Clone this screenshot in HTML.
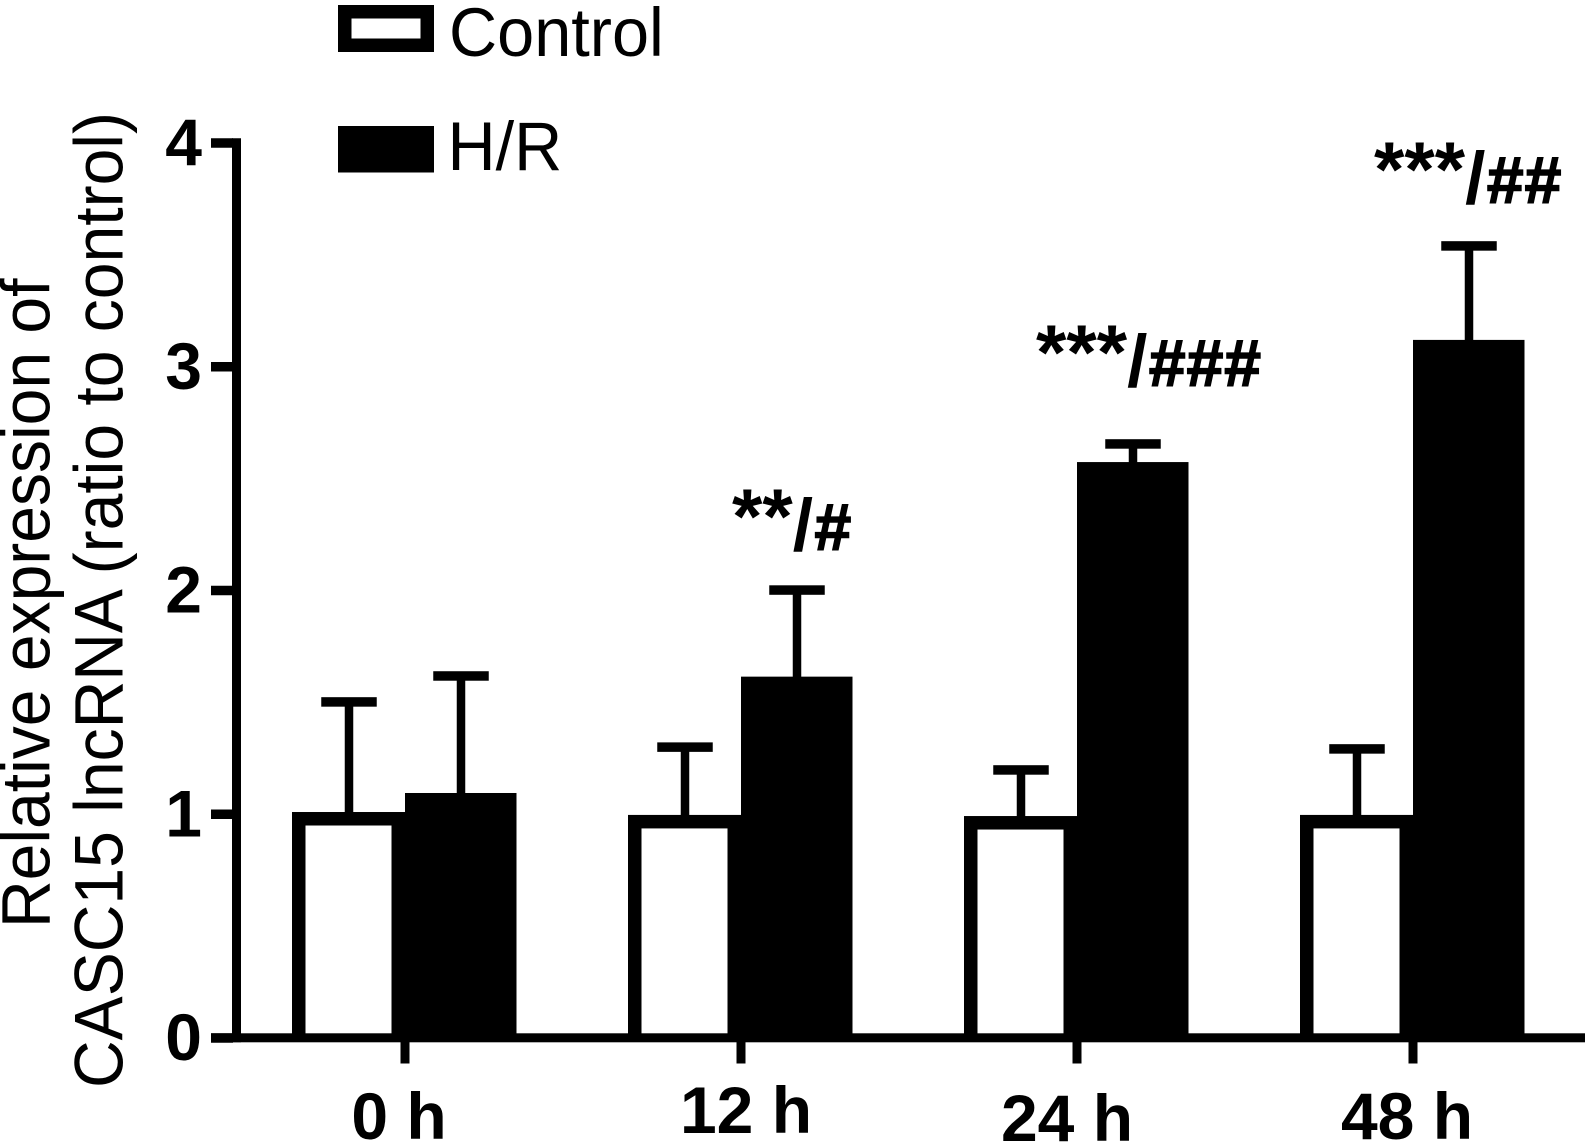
<!DOCTYPE html>
<html lang="en">
<head>
<meta charset="utf-8">
<title>CASC15 lncRNA relative expression</title>
<style>
html,body{margin:0;padding:0;background:#fff;}
svg{display:block;font-family:"Liberation Sans",Arial,sans-serif;}
</style>
</head>
<body>
<svg id="chart" xmlns="http://www.w3.org/2000/svg" width="1587" height="1144" viewBox="0 0 1587 1144">
  <rect x="0" y="0" width="1587" height="1144" fill="#fff"/>
  <g font-size="69" fill="#000">
    <text transform="translate(49.5 928) rotate(-90) scale(0.957 1)">Relative expression of</text>
    <text transform="translate(122.5 1088) rotate(-90) scale(0.957 1)">CASC15 lncRNA (ratio to control)</text>
  </g>
  <g>
    <g>
      <rect x="344.75" y="11.75" width="82.5" height="33.5" fill="#fff" stroke="#000" stroke-width="13.5"/>
      <text transform="translate(449 56) scale(0.966 1)" font-size="69" fill="#000">Control</text>
    </g>
    <g>
      <rect x="338" y="126" width="96" height="46.5" fill="#000"/>
      <text transform="translate(447.5 170) scale(0.966 1)" font-size="69" fill="#000">H/R</text>
    </g>
  </g>
  <g id="marks"></g>
  <g id="axes"></g>
</svg>
<script>
const categories = ['0 h', '12 h', '24 h', '48 h'];
const controlValues = [1.01, 0.997, 0.992, 0.997];
const hrValues = [1.095, 1.615, 2.574, 3.12];
const controlErrorTops = [1.502, 1.30, 1.198, 1.292];
const hrErrorTops = [1.618, 2.002, 2.655, 3.54];
const yTickValues = [0, 1, 2, 3, 4];
const starLabels = ['', '**', '***', '***'];
const hashLabels = ['', '#', '###', '##'];

const NS = 'http://www.w3.org/2000/svg';
const marks = document.getElementById('marks');
const axes = document.getElementById('axes');

function yScale(v) { return 1038 - 223.75 * v; }
function xScale(i) { return 405 + 336 * i; }

function make(tag, parent, attrs) {
  const el = document.createElementNS(NS, tag);
  Object.keys(attrs).forEach(function (k) { el.setAttribute(k, attrs[k]); });
  parent.appendChild(el);
  return el;
}

function errorBar(parent, cx, value, base, slug) {
  const capY = yScale(value);
  const stem = make('rect', parent, { x: cx - 4.25, y: capY, width: 8.5, height: Math.max(0, yScale(base) - capY + 2), fill: '#000' });
  
  
  const cap = make('rect', parent, { x: cx - 27.75, y: capY - 4.75, width: 55.5, height: 9.5, fill: '#000' });
  
  
}

const AXIS_BASE = 1034;
const BORDER = 13.5;
categories.forEach(function (cat, i) {
  const gx = xScale(i);
  const slug = cat.replace(' ', '');
  errorBar(marks, gx - 56, controlErrorTops[i], controlValues[i], 'control-' + slug);
  errorBar(marks, gx + 56, hrErrorTops[i], hrValues[i], 'hr-' + slug);

  const cTop = yScale(controlValues[i]);
  const cBar = make('rect', marks, {
    x: gx - 113,
    y: cTop,
    width: 113,
    height: AXIS_BASE + 4 - cTop,
    fill: '#000'
  });
  
  
  const cFill = make('rect', marks, {
    x: gx - 113 + BORDER,
    y: cTop + BORDER,
    width: 113 - 2 * BORDER,
    height: AXIS_BASE - cTop - BORDER,
    fill: '#fff'
  });
  
  

  const hTop = yScale(hrValues[i]);
  const hBar = make('rect', marks, {
    x: gx,
    y: hTop,
    width: 111.5,
    height: AXIS_BASE + 4 - hTop,
    fill: '#000'
  });
  
  
});

/* significance labels sit a fixed lift above the H/R error cap */
const annotationLift = [0, 40, 58, 43];
const annotationShift = [0, -9, -41, -39];
categories.forEach(function (cat, i) {
  if (!starLabels[i]) { return; }
  const slug = cat.replace(' ', '');
  const base = yScale(hrErrorTops[i]) - annotationLift[i];
  const t = make('text', marks, { x: xScale(i) + annotationShift[i], y: base - 7, 'font-weight': 'bold', fill: '#000' });
  
  
  const stars = make('tspan', t, { 'font-size': 78 });
  stars.textContent = starLabels[i];
  const slash = make('tspan', t, { 'font-size': 73, dy: 7 });
  slash.textContent = '/';
  const hash = make('tspan', t, { 'font-size': 66, dx: 1.5, 'letter-spacing': 1, stroke: '#000', 'stroke-width': 1.6 });
  hash.textContent = hashLabels[i];
});

const yLine = make('rect', axes, { x: 232, y: 138.25, width: 9, height: 904, fill: '#000' });


const xLine = make('rect', axes, { x: 211, y: 1033.3, width: 1374, height: 9, fill: '#000' });



yTickValues.forEach(function (v) {
  const yy = yScale(v);
  const tick = make('rect', axes, { x: 211, y: yy - 4.75, width: 22, height: 9.5, fill: '#000' });
  
  
  const label = make('text', axes, { x: 202, y: yy + 22, 'text-anchor': 'end', 'font-size': 66, 'font-weight': 'bold', fill: '#000' });
  
  
  label.textContent = String(v);
});

const xLabelNudge = [-6, 5, -10, -6];
const xLabelBaseline = [1139, 1133, 1141, 1139];
categories.forEach(function (cat, i) {
  const gx = xScale(i);
  const slug = cat.replace(' ', '');
  const tick = make('rect', axes, { x: gx - 4.5, y: 1042, width: 9, height: 21.5, fill: '#000' });
  
  
  const label = make('text', axes, { x: gx + xLabelNudge[i], y: xLabelBaseline[i], 'text-anchor': 'middle', 'font-size': 66, 'font-weight': 'bold', fill: '#000' });
  
  
  label.textContent = cat;
});
</script>
</body>
</html>
